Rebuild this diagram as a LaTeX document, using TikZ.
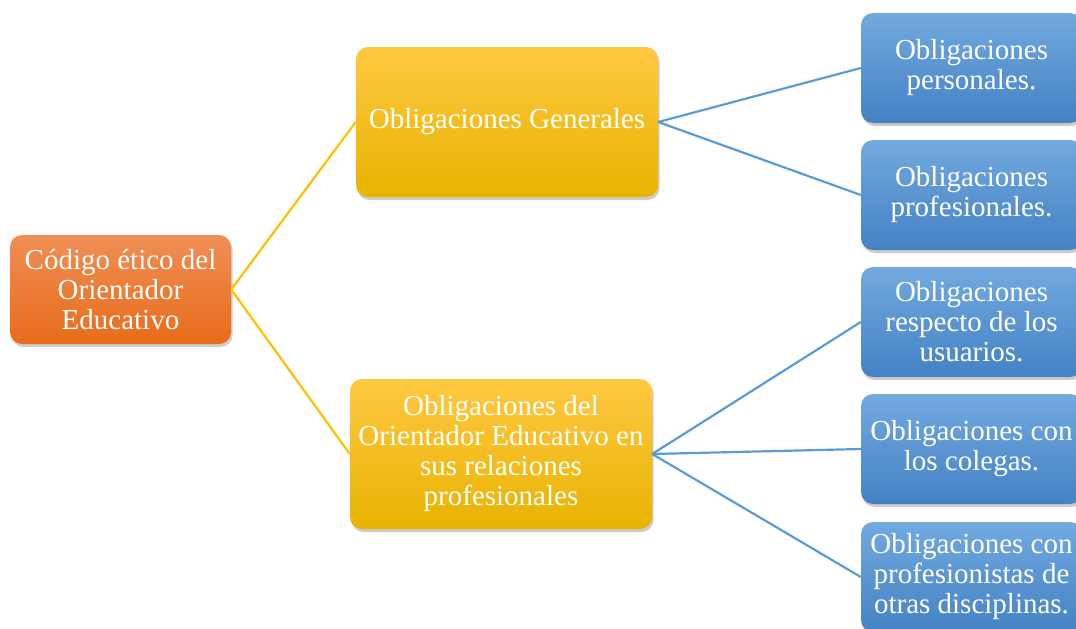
\documentclass[tikz,border=0pt]{standalone}
\usepackage{fontspec}
\setmainfont{Liberation Serif}
\usepackage{xcolor}
\usetikzlibrary{shadows}

\definecolor{naranjaA}{HTML}{F08E55}
\definecolor{naranjaB}{HTML}{E86C1A}
\definecolor{amarilloA}{HTML}{FFC842}
\definecolor{amarilloB}{HTML}{E8B300}
\definecolor{azulA}{HTML}{72A9DF}
\definecolor{azulB}{HTML}{4482C4}
\definecolor{lineaamarilla}{HTML}{FFC000}
\definecolor{lineaazul}{HTML}{5B9BD5}

\begin{document}
\begin{tikzpicture}[x=1pt,y=-1pt,
    caja/.style={rounded corners=12pt, align=center, text=white, inner sep=0pt,
        font=\fontsize{29}{30}\selectfont,
        drop shadow={shadow xshift=1.5pt,shadow yshift=-3pt,opacity=0.4}},
    raiz/.style={caja, minimum width=221pt, minimum height=109pt,
        top color=naranjaA, bottom color=naranjaB},
    medio/.style={caja, minimum width=302pt, minimum height=150pt,
        top color=amarilloA, bottom color=amarilloB},
    hoja/.style={caja, minimum width=221pt, minimum height=110pt,
        top color=azulA, bottom color=azulB},
    ramaA/.style={draw=lineaamarilla, line width=2.2pt},
    ramaB/.style={draw=lineaazul, line width=2.2pt}]
    \useasboundingbox (0,0) rectangle (1076,629);
    %\draw[help lines] (0,0) grid[step=50] (1076,629);

    % nivel 1 y 2
    \node[raiz] (codigo) at (120.5,289.5) {Código ético del\\Orientador\\Educativo};
    \node[medio] (gen) at (507,122) {Obligaciones Generales};
    \node[medio] (rel) at (501,454) {Obligaciones del\\Orientador Educativo en\\sus relaciones\\profesionales};

    % nivel 3
    \foreach \nombre/\y/\txt in {per/68/{Obligaciones\\personales.},
                                 prof/195/{Obligaciones\\profesionales.},
                                 usu/322/{Obligaciones\\respecto de los\\usuarios.},
                                 col/449/{Obligaciones con\\los colegas.},
                                 otr/577/{Obligaciones con\\profesionistas de\\otras disciplinas.}}
    {
        \node[hoja] (\nombre) at (971.5,\y) {\txt};
    }

    % conectores
    \draw[ramaA] (codigo.east) -- (gen.west);
    \draw[ramaA] (codigo.east) -- (rel.west);
    \foreach \nombre in {per,prof}
    {
        \draw[ramaB] (gen.east) -- (\nombre.west);
    }
    \foreach \nombre in {usu,col,otr}
    {
        \draw[ramaB] (rel.east) -- (\nombre.west);
    }
\end{tikzpicture}
\end{document}
